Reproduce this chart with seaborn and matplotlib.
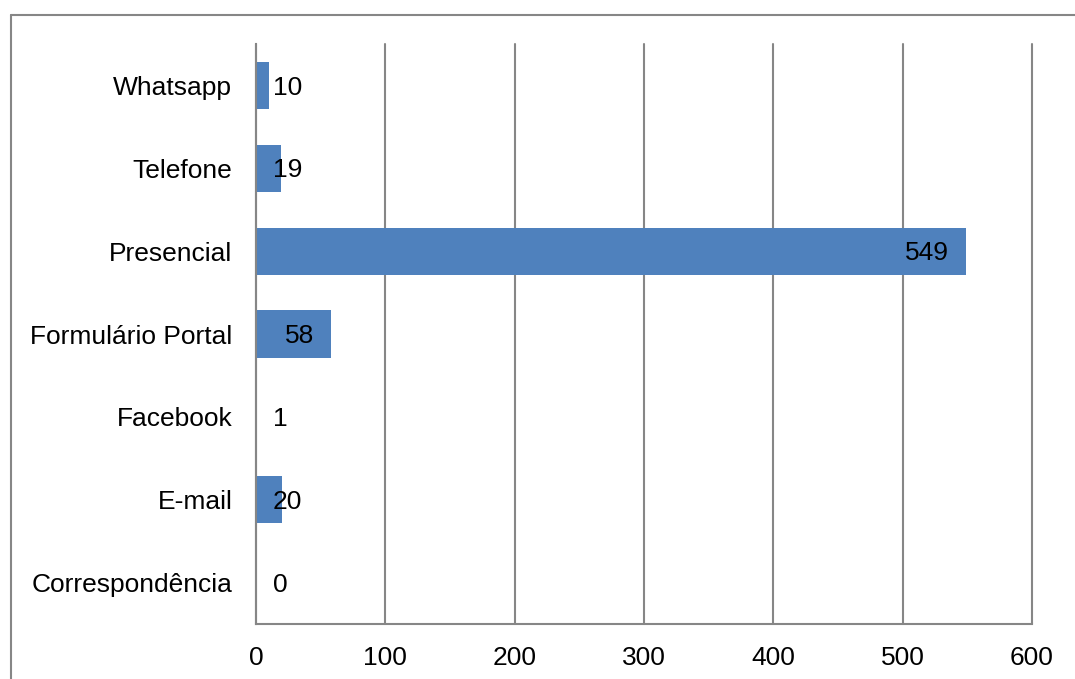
import pandas as pd
import matplotlib.pyplot as plt
import seaborn as sns
from matplotlib.lines import Line2D

canais = ["Whatsapp", "Telefone", "Presencial", "Formulário Portal",
          "Facebook", "E-mail", "Correspondência"]
valores = [10, 19, 549, 58, 1, 20, 0]
xticks = [0, 100, 200, 300, 400, 500, 600]

df = pd.DataFrame({"canal": canais, "total": valores})

sns.set_style("white")
plt.rcParams['font.family'] = ['Liberation Sans', 'DejaVu Sans']

fig = plt.figure(figsize=(10.75, 6.79), dpi=100)
ax = fig.add_axes([0.2381, 0.081, 0.7219, 0.854])

sns.barplot(data=df, y="canal", x="total", orient="h", color="#4F81BD",
            saturation=1, width=0.57, linewidth=0, ax=ax, zorder=3)

ax.set_xlim(0, 600)
ax.set_ylim(6.5, -0.5)
ax.set_xticks(xticks)
ax.set_xticklabels([str(t) for t in xticks])
ax.set_xlabel('')
ax.set_ylabel('')
ax.tick_params(axis='both', length=0, labelsize=19, colors='black')
ax.tick_params(axis='y', pad=17)
ax.tick_params(axis='x', pad=16)

ax.grid(axis='x', color='#868686', linewidth=1.5, zorder=0)
for gl in ax.get_xgridlines():
    gl.set_clip_on(False)
for s in ['top', 'right']:
    ax.spines[s].set_visible(False)
for s in ['left', 'bottom']:
    ax.spines[s].set_color('#868686')
    ax.spines[s].set_linewidth(1.5)
    ax.spines[s].set_zorder(5)

# rótulos de dados (posição "extremidade interna" do Excel)
for i, v in enumerate(valores):
    if v > 40:
        ax.annotate(str(v), (v, i), xytext=(-12, -1.5), textcoords='offset points',
                    ha='right', va='center', fontsize=19, color='black', zorder=4)
    else:
        ax.annotate(str(v), (0, i), xytext=(12, -1.5), textcoords='offset points',
                    ha='left', va='center', fontsize=19, color='black', zorder=4)

# borda da área do gráfico
fig.add_artist(Line2D([0.0102, 0.0102], [0, 0.978], color='#868686', linewidth=1.5))
fig.add_artist(Line2D([0.0102, 1], [0.978, 0.978], color='#868686', linewidth=1.5))

plt.savefig('out.png', dpi=100)
